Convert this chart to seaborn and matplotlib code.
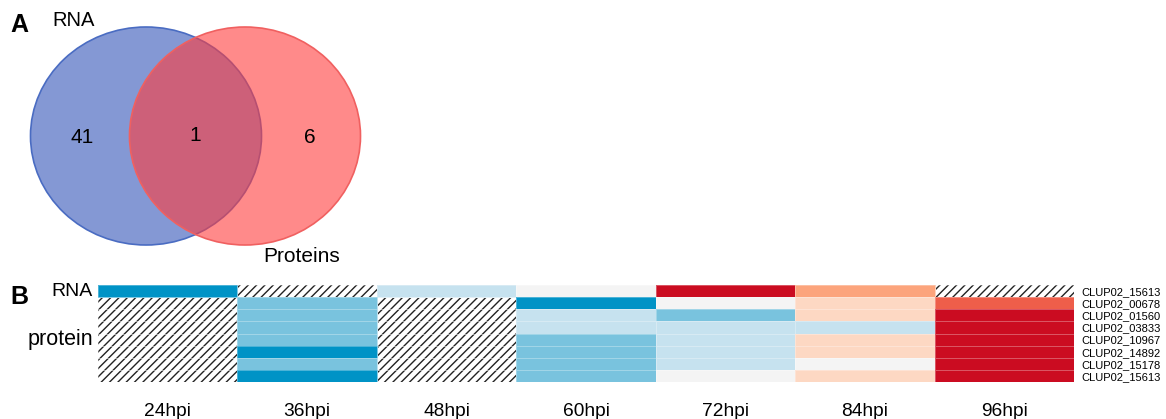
import numpy as np
import pandas as pd
import matplotlib
matplotlib.use('Agg')
import matplotlib.pyplot as plt
from matplotlib.colors import ListedColormap
from matplotlib.patches import Ellipse
import seaborn as sns

# -----------------------------
# Data
# -----------------------------
venn_labels = ['RNA', 'Proteins']
venn_counts = [41, 1, 6]  # RNA only, shared, proteins only

timepoints = ['24hpi', '36hpi', '48hpi', '60hpi', '72hpi', '84hpi', '96hpi']
row_ids = ['CLUP02_15613', 'CLUP02_00678', 'CLUP02_01560', 'CLUP02_03833',
           'CLUP02_10967', 'CLUP02_14892', 'CLUP02_15178', 'CLUP02_15613']

nan = np.nan
# discrete expression levels (-3 strong down ... 4 strong up), NaN = not detected
rna_levels = [-3, nan, -1, 0, 4, 2, nan]
protein_levels = [
    [nan, -2, nan, -3, 0, 1, 3],
    [nan, -2, nan, -1, -2, 1, 4],
    [nan, -2, nan, -1, -1, -1, 4],
    [nan, -2, nan, -2, -1, 1, 4],
    [nan, -3, nan, -2, -1, 1, 4],
    [nan, -2, nan, -2, -1, 0, 4],
    [nan, -3, nan, -2, 0, 1, 4],
]
level_colors = ['#0093c6', '#79c3de', '#c6e2ef', '#f4f4f4',
                '#fdd8c3', '#fca47c', '#ee5e4a', '#cb0c21']

# -----------------------------
# Figure
# -----------------------------
plt.rcParams['font.family'] = ['Liberation Sans', 'DejaVu Sans']
plt.rcParams['hatch.linewidth'] = 1.0
fig = plt.figure(figsize=(11.66, 4.19), dpi=100)

# -----------------------------
# A: Venn diagram (pixel coordinates)
# -----------------------------
axv = fig.add_axes([0, 1 - 275 / 419, 400 / 1166, 275 / 419])
axv.set_xlim(0, 400)
axv.set_ylim(275, 0)
axv.axis('off')
axv.add_patch(Ellipse((146, 136), 231, 218, facecolor=(57/255, 89/255, 186/255, 0.62),
                      edgecolor='#4a6cc2', lw=1.2))
axv.add_patch(Ellipse((245, 136), 231, 218, facecolor=(1, 60/255, 60/255, 0.6),
                      edgecolor='#f06060', lw=1.2))
axv.text(82, 137, str(venn_counts[0]), fontsize=15, ha='center', va='center')
axv.text(195, 135, str(venn_counts[1]), fontsize=15, ha='center', va='center')
axv.text(310, 137, str(venn_counts[2]), fontsize=15, ha='center', va='center')
axv.text(52, 20, venn_labels[0], fontsize=14.5, ha='left', va='center')
axv.text(263, 256, venn_labels[1], fontsize=15, ha='left', va='center')
axv.text(10, 25, 'A', fontsize=18, fontweight='bold', ha='left', va='center')

# -----------------------------
# B: heatmap
# -----------------------------
df = pd.DataFrame([rna_levels] + protein_levels, index=row_ids, columns=timepoints)

axh = fig.add_axes([98 / 1166, 1 - 382 / 419, (1074 - 98) / 1166, 97 / 419])
axh.patch.set_facecolor('white')
axh.patch.set_hatch('////')
axh.patch.set_edgecolor('#222222')
sns.heatmap(df, ax=axh, cmap=ListedColormap(level_colors), vmin=-3.5, vmax=4.5,
            cbar=False, linewidths=0.6, linecolor=(1, 1, 1, 0.3),
            xticklabels=timepoints, yticklabels=row_ids)
axh.tick_params(axis='x', length=0, pad=15, labelsize=13.8, rotation=0)
axh.yaxis.tick_right()
axh.tick_params(axis='y', length=0, pad=5, labelsize=8, rotation=0)
axh.set_xlabel('')
axh.set_ylabel('')
for s in axh.spines.values():
    s.set_visible(False)

axh.text(-0.005, 0.5, 'RNA', transform=axh.get_yaxis_transform(), fontsize=14,
         ha='right', va='center')
axh.text(-0.005, 4.5, 'protein', transform=axh.get_yaxis_transform(), fontsize=15.5,
         ha='right', va='center')
fig.text(10 / 1166, 1 - 297 / 419, 'B', fontsize=18, fontweight='bold', ha='left', va='center')

fig.savefig('out.png', dpi=100)
